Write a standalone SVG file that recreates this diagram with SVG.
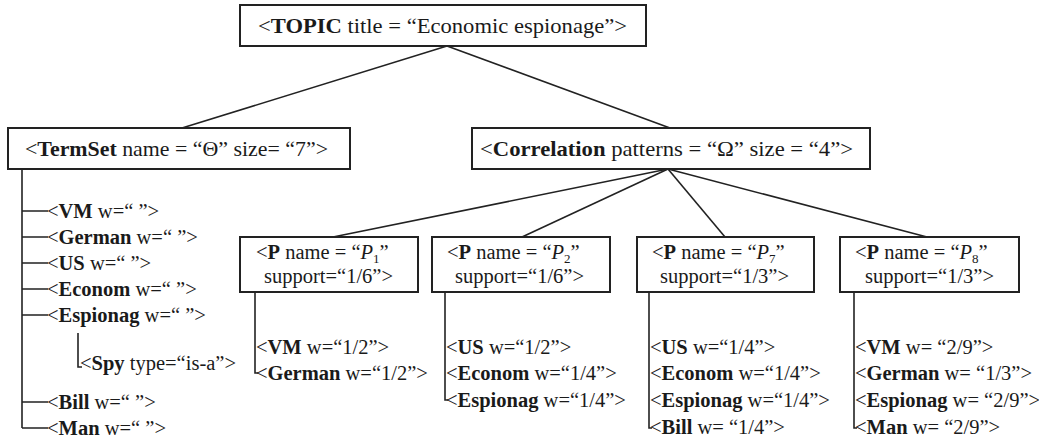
<svg xmlns="http://www.w3.org/2000/svg" width="1039" height="442" viewBox="0 0 1039 442">
<style>
text{font-family:"Liberation Serif","Times New Roman","DejaVu Serif",serif;font-size:20.5px;fill:#1a1a1a}
.big{font-size:22px}
.b{font-weight:bold}
.i{font-style:italic}
.box{fill:#fff;stroke:#222;stroke-width:2}
.ln{stroke:#222;stroke-width:1.6;fill:none}
</style>
<rect width="1039" height="442" fill="#fff"/>
<g id="connectors">
<line class="ln" x1="447" y1="46" x2="182" y2="128"/>
<line class="ln" x1="447" y1="46" x2="670" y2="128"/>
<line class="ln" x1="668" y1="169" x2="333" y2="237"/>
<line class="ln" x1="668" y1="169" x2="522" y2="237"/>
<line class="ln" x1="668" y1="169" x2="725" y2="237"/>
<line class="ln" x1="668" y1="169" x2="927" y2="237"/>
<path class="ln" d="M22 169V428M22 211H48M22 237H48M22 263H48M22 289H48M22 315H48M22 402H48M22 428H48"/>
<path class="ln" d="M78 333V367H82"/>
<path class="ln" d="M255 292V373H258"/>
<path class="ln" d="M445 292V400H448"/>
<path class="ln" d="M649 292V428H652"/>
<path class="ln" d="M854 292V428H857"/>
</g>
<g id="topic">
<rect class="box" x="240" y="5" width="406" height="41"/>
<text class="big" x="258" y="33" textLength="369" lengthAdjust="spacingAndGlyphs">&lt;<tspan class="b">TOPIC</tspan> title = “Economic espionage”&gt;</text>
</g>
<g id="termset">
<rect class="box" x="8" y="128" width="342" height="41"/>
<text class="big" x="25" y="156" textLength="303" lengthAdjust="spacingAndGlyphs">&lt;<tspan class="b">TermSet</tspan> name = “Θ” size= “7”&gt;</text>
</g>
<g id="correlation">
<rect class="box" x="472" y="128" width="398" height="41"/>
<text class="big" x="480" y="156" textLength="373" lengthAdjust="spacingAndGlyphs">&lt;<tspan class="b">Correlation</tspan> patterns = “Ω” size = “4”&gt;</text>
</g>
<g id="ts-leaves">
<text x="47" y="218">&lt;<tspan class="b">VM</tspan> w=“ ”&gt;</text>
<text x="47" y="244">&lt;<tspan class="b">German</tspan> w=“ ”&gt;</text>
<text x="47" y="270">&lt;<tspan class="b">US</tspan> w=“ ”&gt;</text>
<text x="47" y="296">&lt;<tspan class="b">Econom</tspan> w=“ ”&gt;</text>
<text x="47" y="322">&lt;<tspan class="b">Espionag</tspan> w=“ ”&gt;</text>
<text x="80" y="370">&lt;<tspan class="b">Spy</tspan> type=“is-a”&gt;</text>
<text x="47" y="409">&lt;<tspan class="b">Bill</tspan> w=“ ”&gt;</text>
<text x="47" y="435">&lt;<tspan class="b">Man</tspan> w=“ ”&gt;</text>
</g>
<g id="p1">
<rect class="box" x="240" y="237" width="178" height="55"/>
<text x="256" y="259">&lt;<tspan class="b">P</tspan> name = “<tspan class="i">P</tspan><tspan dy="4" font-size="13">1</tspan><tspan dy="-4">”</tspan></text>
<text x="264" y="283">support=“1/6”&gt;</text>
</g>
<g id="p1-leaves">
<text x="256" y="354">&lt;<tspan class="b">VM</tspan> w=“1/2”&gt;</text>
<text x="256" y="380">&lt;<tspan class="b">German</tspan> w=“1/2”&gt;</text>
</g>
<g id="p2">
<rect class="box" x="432" y="237" width="178" height="55"/>
<text x="447" y="259">&lt;<tspan class="b">P</tspan> name = “<tspan class="i">P</tspan><tspan dy="4" font-size="13">2</tspan><tspan dy="-4">”</tspan></text>
<text x="455" y="283">support=“1/6”&gt;</text>
</g>
<g id="p2-leaves">
<text x="446" y="354">&lt;<tspan class="b">US</tspan> w=“1/2”&gt;</text>
<text x="446" y="380">&lt;<tspan class="b">Econom</tspan> w=“1/4”&gt;</text>
<text x="446" y="407">&lt;<tspan class="b">Espionag</tspan> w=“1/4”&gt;</text>
</g>
<g id="p7">
<rect class="box" x="637" y="237" width="177" height="55"/>
<text x="652" y="259">&lt;<tspan class="b">P</tspan> name = “<tspan class="i">P</tspan><tspan dy="4" font-size="13">7</tspan><tspan dy="-4">”</tspan></text>
<text x="660" y="283">support=“1/3”&gt;</text>
</g>
<g id="p7-leaves">
<text x="650" y="354">&lt;<tspan class="b">US</tspan> w=“1/4”&gt;</text>
<text x="650" y="380">&lt;<tspan class="b">Econom</tspan> w=“1/4”&gt;</text>
<text x="650" y="407">&lt;<tspan class="b">Espionag</tspan> w=“1/4”&gt;</text>
<text x="650" y="434">&lt;<tspan class="b">Bill</tspan> w= “1/4”&gt;</text>
</g>
<g id="p8">
<rect class="box" x="840" y="237" width="179" height="55"/>
<text x="855" y="259">&lt;<tspan class="b">P</tspan> name = “<tspan class="i">P</tspan><tspan dy="4" font-size="13">8</tspan><tspan dy="-4">”</tspan></text>
<text x="865" y="283">support=“1/3”&gt;</text>
</g>
<g id="p8-leaves">
<text x="855" y="354">&lt;<tspan class="b">VM</tspan> w= “2/9”&gt;</text>
<text x="855" y="380">&lt;<tspan class="b">German</tspan> w= “1/3”&gt;</text>
<text x="855" y="407">&lt;<tspan class="b">Espionag</tspan> w= “2/9”&gt;</text>
<text x="855" y="434">&lt;<tspan class="b">Man</tspan> w= “2/9”&gt;</text>
</g>
</svg>
